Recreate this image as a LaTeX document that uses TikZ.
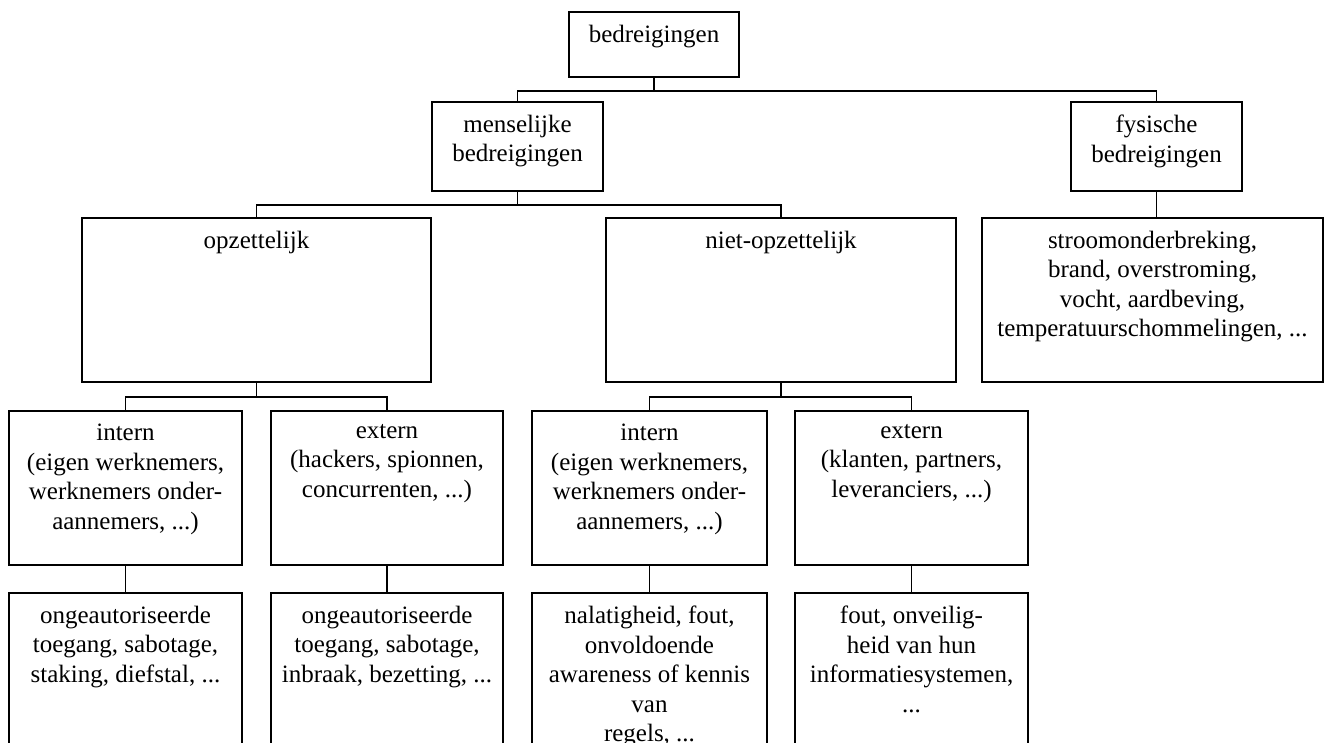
\documentclass[tikz,border=0pt]{standalone}
\usepackage{fontspec}
\setmainfont{Liberation Serif}
\usetikzlibrary{positioning}

\begin{document}
\begin{tikzpicture}[x=1pt, y=-1pt, line width=1.8pt,
		box/.style={draw, rectangle, inner sep=0pt},
		txt/.style={align=center, inner sep=0pt, font=\fontsize{25}{29.5}\selectfont}]
				\useasboundingbox (0,0) rectangle (1325,742);
				\clip (0,0) rectangle (1325,742);
				\node[box, minimum width=170pt, minimum height=65pt] (Bedr)at(654, 44.5) {};
				\node[box, minimum width=171pt, minimum height=89pt] (Mens)at(517.5, 146.5) {};
				\node[box, minimum width=171pt, minimum height=89pt] (Fys)at(1156.5, 146.5) {};
				\node[box, minimum width=349pt, minimum height=164pt] (Opz)at(256.5, 300) {};
				\node[box, minimum width=350pt, minimum height=164pt] (Niet)at(781, 300) {};
				\node[box, minimum width=341pt, minimum height=164pt] (FysL)at(1152.5, 300) {};
				\node[box, minimum width=233pt, minimum height=154pt] (IntO)at(125.5, 488) {};
				\node[box, minimum width=232pt, minimum height=154pt] (ExtO)at(387, 488) {};
				\node[box, minimum width=235pt, minimum height=154pt] (IntN)at(649.5, 488) {};
				\node[box, minimum width=233pt, minimum height=154pt] (ExtN)at(911.5, 488) {};
				\node[box, minimum width=233pt, minimum height=200pt] (IntOL)at(125.5, 693) {};
				\node[box, minimum width=232pt, minimum height=200pt] (ExtOL)at(387, 693) {};
				\node[box, minimum width=235pt, minimum height=200pt] (IntNL)at(649.5, 693) {};
				\node[box, minimum width=233pt, minimum height=200pt] (ExtNL)at(911.5, 693) {};
				\node[txt, below=13pt of Bedr.north] (BedrT) {bedreigingen};
				\node[txt, below=13pt of Mens.north] (MensT) {menselijke\\bedreigingen};
				\node[txt, below=13pt of Fys.north] (FysT) {fysische\\bedreigingen};
				\node[txt, below=13pt of Opz.north] (OpzT) {opzettelijk};
				\node[txt, below=13pt of Niet.north] (NietT) {niet-opzettelijk};
				\node[txt, below=13pt of FysL.north] (FysLT) {stroomonderbreking,\\brand, overstroming,\\vocht, aardbeving,\\temperatuurschommelingen, ...};
				\node[txt, below=13pt of IntO.north] (IntOT) {intern\\(eigen werknemers,\\werknemers onder-\\aannemers, ...)};
				\node[txt, below=13pt of ExtO.north] (ExtOT) {extern\\(hackers, spionnen,\\concurrenten, ...)};
				\node[txt, below=13pt of IntN.north] (IntNT) {intern\\(eigen werknemers,\\werknemers onder-\\aannemers, ...)};
				\node[txt, below=13pt of ExtN.north] (ExtNT) {extern\\(klanten, partners,\\leveranciers, ...)};
				\node[txt, below=13pt of IntOL.north] (IntOLT) {ongeautoriseerde\\toegang, sabotage,\\staking, diefstal, ...};
				\node[txt, below=13pt of ExtOL.north] (ExtOLT) {ongeautoriseerde\\toegang, sabotage,\\inbraak, bezetting, ...};
				\node[txt, below=13pt of IntNL.north] (IntNLT) {nalatigheid, fout,\\onvoldoende\\awareness of kennis\\van\\regels, ...};
				\node[txt, below=13pt of ExtNL.north] (ExtNLT) {fout, onveilig-\\heid van hun\\informatiesystemen,\\...};
				\draw (Bedr.south) -- ++(0,13) -| (Mens.north);
				\draw (Bedr.south) -- ++(0,13) -| (Fys.north);
				\draw (Mens.south) -- ++(0,13) -| (Opz.north);
				\draw (Mens.south) -- ++(0,13) -| (Niet.north);
				\draw (Fys.south) -- (Fys.south |- FysL.north);
				\draw (Opz.south) -- ++(0,14) -| (IntO.north);
				\draw (Opz.south) -- ++(0,14) -| (ExtO.north);
				\draw (Niet.south) -- ++(0,14) -| (IntN.north);
				\draw (Niet.south) -- ++(0,14) -| (ExtN.north);
				\draw (IntO.south) -- (IntOL.north);
				\draw (ExtO.south) -- (ExtOL.north);
				\draw (IntN.south) -- (IntNL.north);
				\draw (ExtN.south) -- (ExtNL.north);
			\end{tikzpicture}
\end{document}
